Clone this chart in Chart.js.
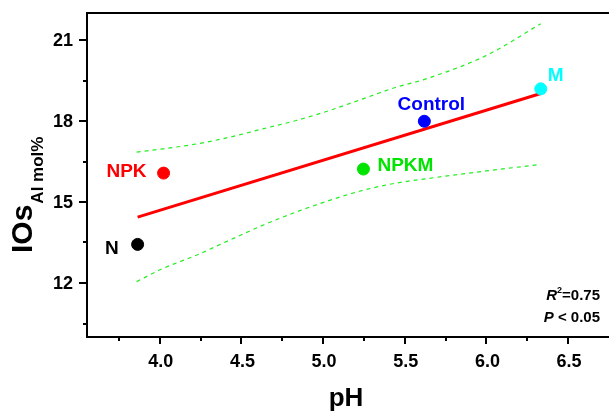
<!DOCTYPE html>
<html>
<head>
<meta charset="utf-8">
<script src="https://cdn.jsdelivr.net/npm/chart.js@4/dist/chart.umd.min.js"></script>
<style>
  html, body { margin: 0; padding: 0; background: #fff; }
  #wrap { width: 609px; height: 416px; position: relative; overflow: hidden; }
</style>
</head>
<body>
<div id="wrap"><canvas id="chart-ph"></canvas></div>
<script>
// treatments and their measured values
const treatments = ['N', 'NPK', 'NPKM', 'Control', 'M'];
const phValues = [3.864, 4.023, 5.247, 5.620, 6.333];
const iosValues = [13.43, 16.07, 16.22, 17.99, 19.19];
const pointColors = ['#000000', '#ff0000', '#00e400', '#0000ff', '#00ffff'];

// linear fit and 95% band
const fitPh = [3.864, 6.333];
const fitIos = [14.44, 19.02];
const bandPh = [3.858, 4.020, 4.224, 4.428, 4.631, 4.836, 5.039, 5.243, 5.447, 5.630, 5.997, 6.333];
const upperBand = [16.85, 16.97, 17.15, 17.40, 17.71, 18.02, 18.39, 18.82, 19.25, 19.56, 20.42, 21.60];
const lowerBand = [12.05, 12.54, 13.03, 13.59, 14.14, 14.63, 15.06, 15.43, 15.70, 15.86, 16.15, 16.39];

// axes
const xTicks = [4.0, 4.5, 5.0, 5.5, 6.0, 6.5];
const yTicks = [12, 15, 18, 21];
const statsLines = [['R', '2', '=0.75'], ['P', '', ' < 0.05']];

const FONT = '"Liberation Sans", Arial, sans-serif';

const pairs = (xs, ys) => xs.map((v, i) => ({ x: v, y: ys[i] }));

// where each treatment label sits next to its point (px)
const labelPos = {
  N: { dx: -19, dy: 10, align: 'right' },
  NPK: { dx: -17, dy: 4, align: 'right' },
  NPKM: { dx: 14, dy: 2, align: 'left' },
  Control: { dx: 7, dy: -11, align: 'center' },
  M: { dx: 7, dy: -8, align: 'left' }
};

const overlay = {
  id: 'overlay',
  afterDraw(chart) {
    const { ctx, chartArea: a, scales: { x, y } } = chart;
    ctx.save();
    ctx.strokeStyle = '#000';
    ctx.lineWidth = 2;
    ctx.beginPath();
    ctx.moveTo(chart.width, a.top);
    ctx.lineTo(a.left, a.top);
    ctx.lineTo(a.left, a.bottom);
    ctx.lineTo(chart.width, a.bottom);
    ctx.stroke();

    // ticks, major + minor, pointing out
    ctx.beginPath();
    xTicks.forEach((t, i) => {
      const px = Math.round(x.getPixelForValue(t));
      ctx.moveTo(px, a.bottom); ctx.lineTo(px, a.bottom + 7);
      const minors = i === xTicks.length - 1 ? [t - 0.25, t + 0.25] : [t - 0.25];
      minors.filter(m => m >= x.min && m <= x.max).forEach(m => {
        const pm = Math.round(x.getPixelForValue(m));
        ctx.moveTo(pm, a.bottom); ctx.lineTo(pm, a.bottom + 4);
      });
    });
    yTicks.forEach((t, i) => {
      const py = Math.round(y.getPixelForValue(t));
      ctx.moveTo(a.left, py); ctx.lineTo(a.left - 8, py);
      const minors = i === yTicks.length - 1 ? [t - 1.5, t + 1.5] : [t - 1.5];
      minors.filter(m => m >= y.min && m <= y.max).forEach(m => {
        const pm = Math.round(y.getPixelForValue(m));
        ctx.moveTo(a.left, pm); ctx.lineTo(a.left - 4, pm);
      });
    });
    ctx.stroke();

    // tick labels
    ctx.fillStyle = '#000';
    ctx.font = 'bold 18px ' + FONT;
    ctx.textBaseline = 'middle';
    ctx.textAlign = 'center';
    xTicks.forEach(t => ctx.fillText(t.toFixed(1), x.getPixelForValue(t) + 1, a.bottom + 25));
    ctx.textAlign = 'right';
    yTicks.forEach(t => ctx.fillText(String(t), a.left - 14, y.getPixelForValue(t) + 1));

    // treatment labels
    ctx.font = 'bold 19px ' + FONT;
    ctx.textBaseline = 'alphabetic';
    treatments.forEach((name, i) => {
      const p = labelPos[name];
      ctx.fillStyle = pointColors[i];
      ctx.textAlign = p.align;
      ctx.fillText(name, x.getPixelForValue(phValues[i]) + p.dx, y.getPixelForValue(iosValues[i]) + p.dy);
    });

    // stats text, right aligned
    ctx.fillStyle = '#000';
    ctx.textAlign = 'left';
    statsLines.forEach((ln, k) => {
      const base = 300 + k * 22;
      ctx.font = 'italic bold 15px ' + FONT;
      const w1 = ctx.measureText(ln[0]).width;
      ctx.font = 'bold 9px ' + FONT;
      const w2 = ctx.measureText(ln[1]).width;
      ctx.font = 'bold 15px ' + FONT;
      const w3 = ctx.measureText(ln[2]).width;
      let sx = 600 - (w1 + w2 + w3);
      ctx.font = 'italic bold 15px ' + FONT;
      ctx.fillText(ln[0], sx, base);
      sx += w1;
      if (ln[1]) {
        ctx.font = 'bold 9px ' + FONT;
        ctx.fillText(ln[1], sx, base - 7);
        sx += w2;
      }
      ctx.font = 'bold 15px ' + FONT;
      ctx.fillText(ln[2], sx, base);
    });

    // axis titles
    ctx.font = 'bold 26px ' + FONT;
    ctx.textAlign = 'center';
    ctx.fillText('pH', 346, 406);

    ctx.translate(32, 253);
    ctx.rotate(-Math.PI / 2);
    ctx.textAlign = 'left';
    ctx.font = 'bold 30px ' + FONT;
    ctx.fillText('IOs', 0, 0);
    const wI = ctx.measureText('IOs').width;
    ctx.font = 'bold 17px ' + FONT;
    ctx.fillText('Al mol%', wI + 1, 11);
    ctx.restore();
  }
};

new Chart(document.getElementById('chart-ph'), {
  type: 'scatter',
  data: {
    datasets: [
      {
        data: pairs(phValues, iosValues),
        pointBackgroundColor: pointColors,
        pointBorderColor: pointColors,
        pointRadius: 6,
        showLine: false,
        order: 0
      },
      {
        data: pairs(fitPh, fitIos),
        showLine: true,
        borderColor: '#ff0000',
        borderWidth: 3,
        pointRadius: 0,
        order: 1
      },
      {
        data: pairs(bandPh, upperBand),
        showLine: true,
        borderColor: '#22ee22',
        borderWidth: 1.2,
        borderDash: [4, 4],
        cubicInterpolationMode: 'monotone',
        pointRadius: 0,
        order: 2
      },
      {
        data: pairs(bandPh, lowerBand),
        showLine: true,
        borderColor: '#22ee22',
        borderWidth: 1.2,
        borderDash: [4, 4],
        cubicInterpolationMode: 'monotone',
        pointRadius: 0,
        order: 2
      }
    ]
  },
  options: {
    responsive: true,
    maintainAspectRatio: false,
    animation: false,
    layout: { padding: { top: 13, right: 0, left: 0, bottom: 0 } },
    plugins: { legend: { display: false }, tooltip: { enabled: false } },
    scales: {
      x: {
        type: 'linear',
        min: 3.554,
        max: 6.708,
        grid: { display: false, drawTicks: false },
        border: { display: false },
        afterFit: s => { s.height = 79; },
        ticks: { display: false }
      },
      y: {
        min: 10,
        max: 22,
        grid: { display: false, drawTicks: false },
        border: { display: false },
        afterFit: s => { s.width = 87; },
        ticks: { display: false }
      }
    }
  },
  plugins: [overlay]
});
</script>
</body>
</html>
